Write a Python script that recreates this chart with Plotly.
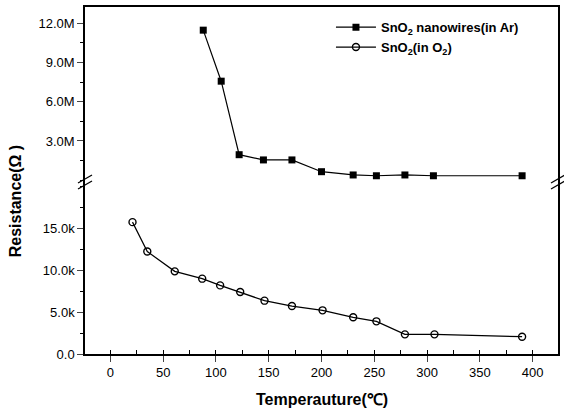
import plotly.graph_objects as go

# Data
temp_ar = [88, 105, 122, 145, 172, 200, 230, 252, 279, 306, 390]
res_ar_ohm = [11.47e6, 7.57e6, 1.95e6, 1.55e6, 1.55e6, 0.65e6, 0.40e6, 0.34e6, 0.40e6, 0.34e6, 0.34e6]

temp_o2 = [21, 35, 61, 87, 104, 123, 146, 172, 201, 230, 252, 279, 307, 390]
res_o2_ohm = [15.7e3, 12.2e3, 9.84e3, 8.97e3, 8.17e3, 7.38e3, 6.35e3, 5.71e3, 5.2e3, 4.37e3, 3.89e3, 2.34e3, 2.34e3, 2.06e3]

x_ticks = [0, 50, 100, 150, 200, 250, 300, 350, 400]
upper_tickvals = [3e6, 6e6, 9e6, 12e6]
upper_ticktext = ["3.0M", "6.0M", "9.0M", "12.0M"]
lower_tickvals = [0, 5e3, 10e3, 15e3]
lower_ticktext = ["0.0", "5.0k", "10.0k", "15.0k"]

W, H = 564, 412
ML, MR, MT, MB = 85, 4, 7, 58
brk = (354 - 182) / (354 - 7)

fig = go.Figure()
fig.add_trace(go.Scatter(
    x=temp_ar, y=res_ar_ohm, xaxis="x2", yaxis="y2", mode="lines+markers",
    name="SnO<sub>2</sub> nanowires(in Ar)",
    line=dict(color="black", width=1.2),
    marker=dict(symbol="square", size=7, color="black"),
))
fig.add_trace(go.Scatter(
    x=temp_o2, y=res_o2_ohm, xaxis="x", yaxis="y", mode="lines+markers",
    name="SnO<sub>2</sub>(in O<sub>2</sub>)",
    line=dict(color="black", width=1.2),
    marker=dict(symbol="circle-open", size=7, color="black", line=dict(width=1.4)),
))

tickfont = dict(family="Liberation Sans, Arial, sans-serif", size=13, color="black")

fig.update_layout(
    width=W, height=H,
    margin=dict(l=ML, r=MR, t=MT, b=MB),
    paper_bgcolor="white", plot_bgcolor="white",
    showlegend=True,
    legend=dict(x=0.52, y=0.985, xanchor="left", yanchor="top",
                bgcolor="rgba(0,0,0,0)", tracegroupgap=0, itemwidth=40,
                font=dict(family="Liberation Sans, Arial, sans-serif", size=13, color="black", weight="bold")),
    xaxis=dict(domain=[0, 1], anchor="y", range=[-24, 424],
               tickvals=x_ticks, ticks="outside", ticklen=6, tickwidth=1,
               minor=dict(dtick=25, tick0=0, ticks="inside", ticklen=4, tickcolor="black"),
               showline=True, linecolor="black", linewidth=1.5,
               showgrid=False, zeroline=False, tickfont=tickfont),
    xaxis2=dict(domain=[0, 1], anchor="y2", matches="x", side="top",
                showticklabels=False, ticks="", showline=True, linecolor="black",
                linewidth=1.5, showgrid=False, zeroline=False),
    yaxis=dict(domain=[0, brk], anchor="x", range=[0, 20.48e3],
               tickvals=lower_tickvals, ticktext=lower_ticktext,
               ticks="outside", ticklen=6, tickwidth=1,
               minor=dict(dtick=2.5e3, tick0=0, ticks="outside", ticklen=3, tickcolor="black"),
               showline=True, mirror=True, linecolor="black", linewidth=1.5,
               showgrid=False, zeroline=False, tickfont=tickfont),
    yaxis2=dict(domain=[brk, 1], anchor="x2", range=[-0.137e6, 13.24e6],
                tickvals=upper_tickvals, ticktext=upper_ticktext,
                ticks="outside", ticklen=6, tickwidth=1,
                minor=dict(dtick=1.5e6, tick0=0, ticks="outside", ticklen=3, tickcolor="black"),
                showline=True, mirror=True, linecolor="black", linewidth=1.5,
                showgrid=False, zeroline=False, tickfont=tickfont),
)

# axis break marks on left and right axes
for xa in (0, 1):
    for dy in (-3, 3):
        fig.add_shape(type="line", xref="paper", yref="paper",
                      xsizemode="pixel", ysizemode="pixel",
                      xanchor=xa, yanchor=brk,
                      x0=-7, x1=7, y0=dy - 4, y1=dy + 4,
                      line=dict(color="black", width=1.3))

titlefont = dict(family="Liberation Sans, Arial, sans-serif", size=16, color="black", weight="bold")
fig.add_annotation(text="Resistance(Ω )", xref="paper", yref="paper",
                   x=-0.148, y=0.44, textangle=-90, showarrow=False,
                   xanchor="center", yanchor="middle", font=titlefont)
fig.add_annotation(text="Temperauture(℃)", xref="paper", yref="paper",
                   x=0.5, y=-0.1, showarrow=False,
                   xanchor="center", yanchor="top", font=titlefont)

fig.write_html("out.html")
